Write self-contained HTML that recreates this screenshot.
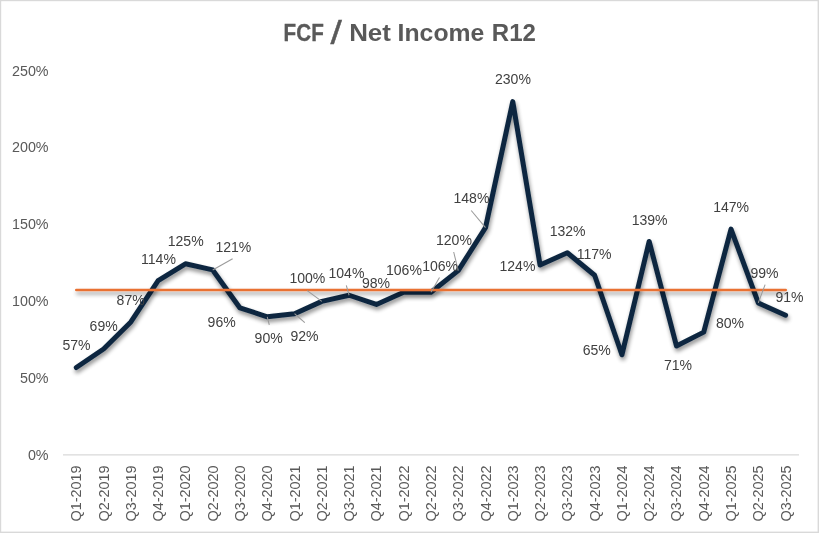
<!DOCTYPE html>
<html><head><meta charset="utf-8"><title>FCF / Net Income R12</title>
<style>
html,body{margin:0;padding:0;background:#fff;}
body{width:819px;height:533px;overflow:hidden;}
svg{display:block;}
text{font-family:"Liberation Sans",Arial,sans-serif;}
.ax{font-size:14.3px;fill:#595959;}
.dl{font-size:14.05px;fill:#404040;}
.title{font-size:24.4px;font-weight:bold;fill:#595959;}
</style></head><body>
<svg width="819" height="533" viewBox="0 0 819 533">
<defs>
<filter id="sh" filterUnits="userSpaceOnUse" x="0" y="0" width="819" height="533">
<feGaussianBlur in="SourceAlpha" stdDeviation="2" result="b"/>
<feOffset in="b" dx="1" dy="2.8" result="o"/>
<feComponentTransfer in="o" result="s"><feFuncA type="linear" slope="0.45"/></feComponentTransfer>
<feMerge><feMergeNode in="s"/><feMergeNode in="SourceGraphic"/></feMerge>
</filter>
</defs>
<rect x="0" y="0" width="819" height="533" fill="#ffffff"/>
<rect x="0.5" y="0.5" width="817.8" height="531.8" fill="none" stroke="#d9d9d9" stroke-width="1.4"/>
<g class="title"><text stroke="#595959" stroke-width="0.35" transform="translate(283.62,40.60) scale(0.8469,1.0000)">FCF</text> <text style="font-weight:normal" stroke="#595959" stroke-width="0.3" transform="translate(330.60,44.26) scale(1.6741,1.3500)">/</text> <text transform="translate(349.14,40.60) scale(1.0631,1.0000)">Net</text> <text transform="translate(397.62,40.60) scale(1.0151,1.0000)">Income</text> <text transform="translate(491.77,40.60) scale(0.9857,1.0000)">R12</text> </g>
<line x1="63" y1="454.9" x2="799" y2="454.9" stroke="#d9d9d9" stroke-width="1.3"/>
<text class="ax" x="48.6" y="459.7" text-anchor="end">0%</text>
<text class="ax" x="48.6" y="382.9" text-anchor="end">50%</text>
<text class="ax" x="48.6" y="306.0" text-anchor="end">100%</text>
<text class="ax" x="48.6" y="229.2" text-anchor="end">150%</text>
<text class="ax" x="48.6" y="152.3" text-anchor="end">200%</text>
<text class="ax" x="48.6" y="75.5" text-anchor="end">250%</text>
<text class="ax" style="font-size:14.45px" transform="translate(81.30,465.4) rotate(-90)" text-anchor="end">Q1-2019</text>
<text class="ax" style="font-size:14.45px" transform="translate(108.58,465.4) rotate(-90)" text-anchor="end">Q2-2019</text>
<text class="ax" style="font-size:14.45px" transform="translate(135.86,465.4) rotate(-90)" text-anchor="end">Q3-2019</text>
<text class="ax" style="font-size:14.45px" transform="translate(163.14,465.4) rotate(-90)" text-anchor="end">Q4-2019</text>
<text class="ax" style="font-size:14.45px" transform="translate(190.42,465.4) rotate(-90)" text-anchor="end">Q1-2020</text>
<text class="ax" style="font-size:14.45px" transform="translate(217.70,465.4) rotate(-90)" text-anchor="end">Q2-2020</text>
<text class="ax" style="font-size:14.45px" transform="translate(244.98,465.4) rotate(-90)" text-anchor="end">Q3-2020</text>
<text class="ax" style="font-size:14.45px" transform="translate(272.26,465.4) rotate(-90)" text-anchor="end">Q4-2020</text>
<text class="ax" style="font-size:14.45px" transform="translate(299.54,465.4) rotate(-90)" text-anchor="end">Q1-2021</text>
<text class="ax" style="font-size:14.45px" transform="translate(326.82,465.4) rotate(-90)" text-anchor="end">Q2-2021</text>
<text class="ax" style="font-size:14.45px" transform="translate(354.10,465.4) rotate(-90)" text-anchor="end">Q3-2021</text>
<text class="ax" style="font-size:14.45px" transform="translate(381.38,465.4) rotate(-90)" text-anchor="end">Q4-2021</text>
<text class="ax" style="font-size:14.45px" transform="translate(408.66,465.4) rotate(-90)" text-anchor="end">Q1-2022</text>
<text class="ax" style="font-size:14.45px" transform="translate(435.94,465.4) rotate(-90)" text-anchor="end">Q2-2022</text>
<text class="ax" style="font-size:14.45px" transform="translate(463.22,465.4) rotate(-90)" text-anchor="end">Q3-2022</text>
<text class="ax" style="font-size:14.45px" transform="translate(490.50,465.4) rotate(-90)" text-anchor="end">Q4-2022</text>
<text class="ax" style="font-size:14.45px" transform="translate(517.78,465.4) rotate(-90)" text-anchor="end">Q1-2023</text>
<text class="ax" style="font-size:14.45px" transform="translate(545.06,465.4) rotate(-90)" text-anchor="end">Q2-2023</text>
<text class="ax" style="font-size:14.45px" transform="translate(572.34,465.4) rotate(-90)" text-anchor="end">Q3-2023</text>
<text class="ax" style="font-size:14.45px" transform="translate(599.62,465.4) rotate(-90)" text-anchor="end">Q4-2023</text>
<text class="ax" style="font-size:14.45px" transform="translate(626.90,465.4) rotate(-90)" text-anchor="end">Q1-2024</text>
<text class="ax" style="font-size:14.45px" transform="translate(654.18,465.4) rotate(-90)" text-anchor="end">Q2-2024</text>
<text class="ax" style="font-size:14.45px" transform="translate(681.46,465.4) rotate(-90)" text-anchor="end">Q3-2024</text>
<text class="ax" style="font-size:14.45px" transform="translate(708.74,465.4) rotate(-90)" text-anchor="end">Q4-2024</text>
<text class="ax" style="font-size:14.45px" transform="translate(736.02,465.4) rotate(-90)" text-anchor="end">Q1-2025</text>
<text class="ax" style="font-size:14.45px" transform="translate(763.30,465.4) rotate(-90)" text-anchor="end">Q2-2025</text>
<text class="ax" style="font-size:14.45px" transform="translate(790.58,465.4) rotate(-90)" text-anchor="end">Q3-2025</text>
<polyline points="76.30,367.49 103.58,349.05 130.86,321.98 158.14,280.68 185.42,263.78 212.70,269.92 239.98,307.95 267.26,316.77 294.54,313.70 321.82,301.40 349.10,295.25 376.38,304.47 403.66,292.18 430.94,292.18 458.22,270.66 485.50,227.62 512.78,101.59 540.06,265.01 567.34,252.72 594.62,275.27 621.90,354.80 649.18,241.46 676.46,345.97 703.74,332.14 731.02,229.16 758.30,302.94 785.58,315.23" fill="none" stroke="#0e2841" stroke-width="5.0" stroke-linecap="round" stroke-linejoin="round" filter="url(#sh)"/>
<path d="M76.3 290 H785.7" fill="none" stroke="#e97132" stroke-width="2.6" stroke-linecap="round" filter="url(#sh)"/>
<line x1="232.6" y1="258.8" x2="212.70" y2="269.92" stroke="#9a9a9a" stroke-width="1.05"/>
<line x1="307.2" y1="290.6" x2="321.82" y2="301.40" stroke="#9a9a9a" stroke-width="1.05"/>
<line x1="346.3" y1="285.3" x2="349.10" y2="295.25" stroke="#9a9a9a" stroke-width="1.05"/>
<line x1="269.3" y1="324.8" x2="267.26" y2="316.77" stroke="#9a9a9a" stroke-width="1.05"/>
<line x1="304.8" y1="322.7" x2="294.54" y2="313.70" stroke="#9a9a9a" stroke-width="1.05"/>
<line x1="439.5" y1="277.6" x2="430.94" y2="292.18" stroke="#9a9a9a" stroke-width="1.05"/>
<line x1="453.7" y1="252" x2="458.22" y2="270.66" stroke="#9a9a9a" stroke-width="1.05"/>
<line x1="471.2" y1="210.5" x2="485.50" y2="227.62" stroke="#9a9a9a" stroke-width="1.05"/>
<line x1="765.1" y1="284.6" x2="758.30" y2="302.94" stroke="#9a9a9a" stroke-width="1.05"/>
<text class="dl" x="62.4" y="349.5">57%</text>
<text class="dl" x="89.6" y="331.3">69%</text>
<text class="dl" x="116.6" y="304.9">87%</text>
<text class="dl" x="141.0" y="263.8">114%</text>
<text class="dl" x="167.75" y="246.4">125%</text>
<text class="dl" x="215.4" y="252">121%</text>
<text class="dl" x="207.6" y="327.2">96%</text>
<text class="dl" x="254.6" y="342.6">90%</text>
<text class="dl" x="290.4" y="341">92%</text>
<text class="dl" x="289.4" y="283.2">100%</text>
<text class="dl" x="328.5" y="278.3">104%</text>
<text class="dl" x="362" y="287.5">98%</text>
<text class="dl" x="386" y="274.5">106%</text>
<text class="dl" x="422.2" y="270.75">106%</text>
<text class="dl" x="436" y="245">120%</text>
<text class="dl" x="453.5" y="202.75">148%</text>
<text class="dl" x="495" y="84.4">230%</text>
<text class="dl" x="499.5" y="271">124%</text>
<text class="dl" x="549.7" y="235.6">132%</text>
<text class="dl" x="576.7" y="259">117%</text>
<text class="dl" x="582.7" y="355.3">65%</text>
<text class="dl" x="631.7" y="225">139%</text>
<text class="dl" x="664" y="370">71%</text>
<text class="dl" x="716" y="328.1">80%</text>
<text class="dl" x="713.2" y="212.2">147%</text>
<text class="dl" x="750.5" y="277.75">99%</text>
<text class="dl" x="775.5" y="301.5">91%</text>
</svg>
</body></html>
